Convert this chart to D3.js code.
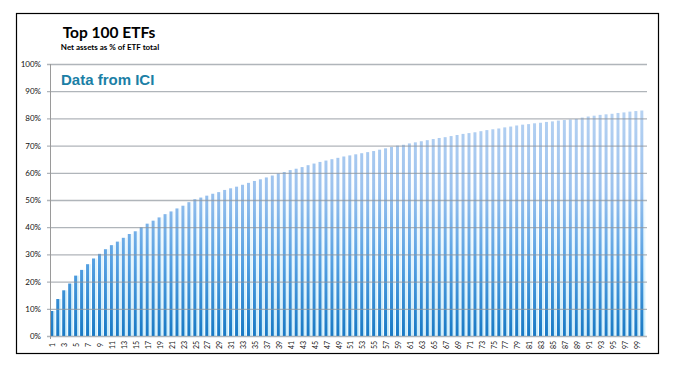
<!DOCTYPE html>
<html>
<head>
<meta charset="utf-8">
<script src="https://cdn.jsdelivr.net/npm/d3@7"></script>
<style>
  body { margin: 0; background: #fff; }
  svg { display: block; }
</style>
</head>
<body>
<svg id="chart" width="678" height="365"></svg>
<script>
// ranks of the top 100 ETFs
var categories = d3.range(1, 101);
// cumulative net assets, % of ETF total
var shares = [
  9.2, 13.6, 16.8, 19.3, 22.2, 24.3, 26.4, 28.5, 30.2, 31.9,
  33.4, 34.7, 36.1, 37.5, 38.5, 40.0, 41.3, 42.4, 43.6, 44.8,
  45.8, 46.9, 47.9, 49.2, 50.3, 50.9, 51.6, 52.3, 52.9, 53.7,
  54.3, 54.9, 55.6, 56.3, 57.0, 57.6, 58.3, 59.0, 59.8, 60.3,
  61.0, 61.5, 62.1, 62.8, 63.4, 64.0, 64.5, 65.0, 65.5, 66.0,
  66.4, 66.8, 67.2, 67.6, 68.0, 68.5, 69.0, 69.5, 70.0, 70.3,
  70.8, 71.2, 71.6, 72.0, 72.4, 72.8, 73.1, 73.5, 73.9, 74.3,
  74.6, 74.9, 75.3, 75.7, 76.0, 76.3, 76.7, 77.0, 77.4, 77.7,
  77.9, 78.2, 78.4, 78.7, 78.9, 79.2, 79.4, 79.6, 79.8, 80.3,
  80.7, 81.0, 81.3, 81.5, 81.7, 82.0, 82.2, 82.5, 82.7, 82.9
];
var yTicks = [0, 10, 20, 30, 40, 50, 60, 70, 80, 90, 100];
var xTickLabels = categories.filter(d => d % 2 === 1);

var svg = d3.select("#chart");
var plotLeft = 50, plotRight = 646, plotTop = 64, plotBottom = 336;

var x = d3.scaleBand().domain(categories).range([plotLeft, plotRight]).padding(0);
var y = d3.scaleLinear().domain([0, 100]).range([plotBottom, plotTop]);

// outer frame
svg.append("rect")
  .attr("x", 16.5).attr("y", 13.5)
  .attr("width", 642).attr("height", 340)
  .attr("fill", "#fff")
  .attr("stroke", "#000")
  .attr("stroke-width", 1.2);

var defs = svg.append("defs");
var barGrad = defs.append("linearGradient")
  .attr("id", "barGrad")
  .attr("gradientUnits", "userSpaceOnUse")
  .attr("x1", 0).attr("y1", y(0))
  .attr("x2", 0).attr("y2", y(90));
barGrad.append("stop").attr("offset", "0%").attr("stop-color", "#1879c4");
barGrad.append("stop").attr("offset", "30%").attr("stop-color", "#55a0e2");
barGrad.append("stop").attr("offset", "60%").attr("stop-color", "#9cc2ee");
barGrad.append("stop").attr("offset", "100%").attr("stop-color", "#bdd6f3");

var gapGrad = defs.append("linearGradient")
  .attr("id", "gapGrad")
  .attr("gradientUnits", "userSpaceOnUse")
  .attr("x1", 0).attr("y1", y(0))
  .attr("x2", 0).attr("y2", y(60));
gapGrad.append("stop").attr("offset", "0%").attr("stop-color", "#c9edfb");
gapGrad.append("stop").attr("offset", "100%").attr("stop-color", "#ffffff");

var bw = x.bandwidth();

// light sheen beside each bar
svg.append("g").selectAll("rect")
  .data(shares)
  .enter().append("rect")
  .attr("x", (d, i) => x(categories[i]) + bw * 0.5)
  .attr("y", d => y(d))
  .attr("width", bw * 0.4)
  .attr("height", d => y(0) - y(d))
  .attr("fill", "url(#gapGrad)");

svg.append("g").selectAll("rect")
  .data(shares)
  .enter().append("rect")
  .attr("x", (d, i) => x(categories[i]) + bw * 0.05)
  .attr("y", d => y(d))
  .attr("width", bw * 0.5)
  .attr("height", d => y(0) - y(d))
  .attr("fill", "url(#barGrad)");

// gridlines
svg.append("g").selectAll("line")
  .data(yTicks)
  .enter().append("line")
  .attr("x1", plotLeft - 3).attr("x2", plotRight + 1)
  .attr("y1", d => y(d) + 0.5).attr("y2", d => y(d) + 0.5)
  .attr("stroke", "#8f959c")
  .attr("stroke-opacity", 0.7)
  .attr("stroke-width", 1.3);

// y axis line
svg.append("line")
  .attr("x1", plotLeft + 0.5).attr("x2", plotLeft + 0.5)
  .attr("y1", plotTop).attr("y2", plotBottom + 3)
  .attr("stroke", "#9a9a9a");

// y labels
svg.append("g").selectAll("text")
  .data(yTicks)
  .enter().append("text")
  .attr("x", 41)
  .attr("y", d => y(d) + 3)
  .attr("text-anchor", "end")
  .attr("font-family", "Lato, 'Open Sans', sans-serif")
  .attr("font-size", "8px")
  .attr("fill", "#111")
  .text(d => d + "%");

// x labels
svg.append("g").selectAll("text")
  .data(xTickLabels)
  .enter().append("text")
  .attr("transform", d => "translate(" + (x(d) + bw / 2 + 2.5) + "," + 345 + ") rotate(-90)")
  .attr("text-anchor", "middle")
  .attr("font-family", "Lato, 'Open Sans', sans-serif")
  .attr("font-size", "7px")
  .attr("fill", "#111")
  .text(d => d);

// titles
svg.append("text")
  .attr("x", 109).attr("y", 38)
  .attr("text-anchor", "middle")
  .attr("font-family", "Lato, sans-serif")
  .attr("font-weight", "bold")
  .attr("font-size", "15.5px")
  .attr("fill", "#000")
  .text("Top 100 ETFs");

svg.append("text")
  .attr("x", 110).attr("y", 49.5)
  .attr("text-anchor", "middle")
  .attr("font-family", "Lato, sans-serif")
  .attr("font-weight", "bold")
  .attr("font-size", "8px")
  .attr("fill", "#000")
  .text("Net assets as % of ETF total");

svg.append("text")
  .attr("x", 61).attr("y", 85)
  .attr("font-family", "'Liberation Sans', Arial, sans-serif")
  .attr("font-weight", "bold")
  .attr("font-size", "15px")
  .attr("fill", "#1b7fa6")
  .text("Data from ICI");
</script>
</body>
</html>
